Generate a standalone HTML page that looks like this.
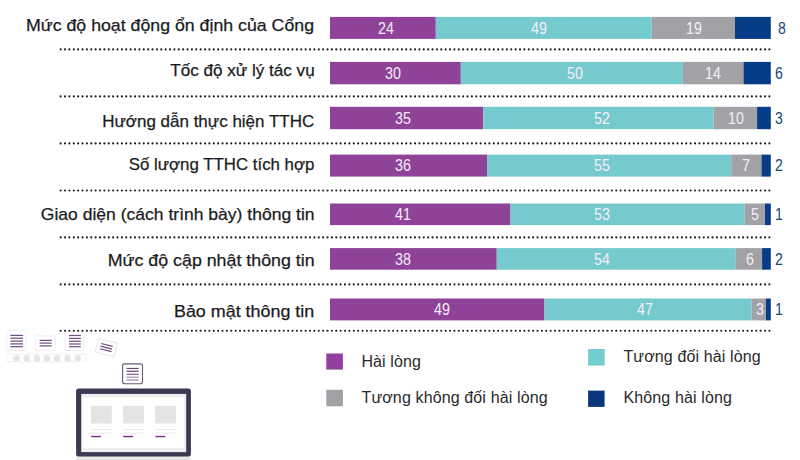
<!DOCTYPE html>
<html><head><meta charset="utf-8">
<style>
html,body{margin:0;padding:0;background:#fff;}
body{width:800px;height:460px;position:relative;overflow:hidden;font-family:"Liberation Sans",sans-serif;}
.lb{position:absolute;right:485.5px;font-size:17px;line-height:17px;color:#1b1b1d;white-space:nowrap;transform-origin:100% 50%;-webkit-text-stroke:0.25px #1b1b1d;}
.v{position:absolute;font-size:15.8px;line-height:15.8px;color:#f6eef6;white-space:nowrap;transform:translateX(-50%) scaleX(0.9);}
.o{position:absolute;font-size:16px;line-height:16px;color:#22447c;white-space:nowrap;transform:scaleX(0.88);transform-origin:0 50%;}
.lg{position:absolute;font-size:16px;line-height:16px;color:#2a2a2c;white-space:nowrap;letter-spacing:0.13px;}
</style></head><body>

<svg style="position:absolute;left:0;top:0" width="800" height="460" viewBox="0 0 800 460">
<rect x="330" y="16.9" width="105.8" height="22" fill="#8e4399"/>
<rect x="435.8" y="16.9" width="215.9" height="22" fill="#75cacd"/>
<rect x="651.7" y="16.9" width="83.3" height="22" fill="#a2a2a6"/>
<rect x="735" y="16.9" width="35.8" height="22" fill="#073c86"/>
<rect x="330" y="61.9" width="130.8" height="22.4" fill="#8e4399"/>
<rect x="460.8" y="61.9" width="222" height="22.4" fill="#75cacd"/>
<rect x="682.8" y="61.9" width="60.7" height="22.4" fill="#a2a2a6"/>
<rect x="743.5" y="61.9" width="27.3" height="22.4" fill="#073c86"/>
<rect x="330" y="106.8" width="153.25" height="22.4" fill="#8e4399"/>
<rect x="483.25" y="106.8" width="230.5" height="22.4" fill="#75cacd"/>
<rect x="713.75" y="106.8" width="43.35" height="22.4" fill="#a2a2a6"/>
<rect x="757.1" y="106.8" width="13.7" height="22.4" fill="#073c86"/>
<rect x="330" y="154.6" width="157" height="22" fill="#8e4399"/>
<rect x="487" y="154.6" width="244.25" height="22" fill="#75cacd"/>
<rect x="731.25" y="154.6" width="30.25" height="22" fill="#a2a2a6"/>
<rect x="761.5" y="154.6" width="9.3" height="22" fill="#073c86"/>
<rect x="330" y="203.5" width="180.5" height="21.6" fill="#8e4399"/>
<rect x="510.5" y="203.5" width="234.1" height="21.6" fill="#75cacd"/>
<rect x="744.6" y="203.5" width="20.4" height="21.6" fill="#a2a2a6"/>
<rect x="765" y="203.5" width="5.8" height="21.6" fill="#073c86"/>
<rect x="330" y="248.1" width="166.75" height="21.6" fill="#8e4399"/>
<rect x="496.75" y="248.1" width="238.65" height="21.6" fill="#75cacd"/>
<rect x="735.4" y="248.1" width="26.7" height="21.6" fill="#a2a2a6"/>
<rect x="762.1" y="248.1" width="8.7" height="21.6" fill="#073c86"/>
<rect x="330" y="298.5" width="214.5" height="21.9" fill="#8e4399"/>
<rect x="544.5" y="298.5" width="207" height="21.9" fill="#75cacd"/>
<rect x="751.5" y="298.5" width="14.4" height="21.9" fill="#a2a2a6"/>
<rect x="765.9" y="298.5" width="4.9" height="21.9" fill="#073c86"/>
<rect x="326.3" y="353.5" width="16.6" height="16.1" fill="#923fa0"/>
<rect x="326.3" y="389.8" width="16.6" height="16.5" fill="#a2a2a6"/>
<rect x="588.1" y="349" width="16.6" height="16.6" fill="#72cdd0"/>
<rect x="588.1" y="390.6" width="16.5" height="16.3" fill="#0a377c"/>
<g fill="#fff" stroke="#efedf1" stroke-width="1">
<rect x="7" y="330.7" width="19" height="19.8" rx="1"/>
<rect x="35.2" y="335.9" width="20" height="14.6" rx="1"/>
<rect x="65" y="331.5" width="19" height="19" rx="1"/>
<rect x="6.8" y="354" width="79.3" height="7.7" rx="1.5" stroke="#efefef"/>
</g>
<line x1="10.4" y1="335.4" x2="23" y2="335.4" stroke="#6e4c7f" stroke-width="1.2"/><line x1="10.4" y1="338.2" x2="23" y2="338.2" stroke="#6e4c7f" stroke-width="1.2"/><line x1="10.4" y1="341.1" x2="23" y2="341.1" stroke="#6e4c7f" stroke-width="1.2"/><line x1="10.4" y1="343.9" x2="23" y2="343.9" stroke="#6e4c7f" stroke-width="1.2"/><line x1="10.4" y1="346.7" x2="23" y2="346.7" stroke="#6e4c7f" stroke-width="1.2"/>
<line x1="39.6" y1="340.4" x2="51.7" y2="340.4" stroke="#6e4c7f" stroke-width="1.2"/><line x1="39.6" y1="343.1" x2="51.7" y2="343.1" stroke="#6e4c7f" stroke-width="1.2"/><line x1="39.6" y1="345.9" x2="51.7" y2="345.9" stroke="#6e4c7f" stroke-width="1.2"/>
<line x1="69" y1="335.5" x2="80.8" y2="335.5" stroke="#6e4c7f" stroke-width="1.2"/><line x1="69" y1="338.4" x2="80.8" y2="338.4" stroke="#6e4c7f" stroke-width="1.2"/><line x1="69" y1="341.2" x2="80.8" y2="341.2" stroke="#6e4c7f" stroke-width="1.2"/><line x1="69" y1="344" x2="80.8" y2="344" stroke="#6e4c7f" stroke-width="1.2"/><line x1="69" y1="346.7" x2="80.8" y2="346.7" stroke="#6e4c7f" stroke-width="1.2"/>
<circle cx="16.6" cy="358.3" r="3.2" fill="#e5e5e5"/>
<circle cx="26.7" cy="358.3" r="3.2" fill="#e5e5e5"/>
<circle cx="36.8" cy="358.3" r="3.2" fill="#e5e5e5"/>
<circle cx="46.9" cy="358.3" r="3.2" fill="#e5e5e5"/>
<circle cx="57" cy="358.3" r="3.2" fill="#e5e5e5"/>
<circle cx="67.5" cy="358.3" r="3.2" fill="#e5e5e5"/>
<circle cx="77.8" cy="358.3" r="3.2" fill="#e5e5e5"/>
<g transform="translate(106.3 347.6) rotate(14)"><rect x="-9.8" y="-7" width="19.6" height="14" rx="1" fill="#fff" stroke="#e6e4e8"/><line x1="-6" y1="-2.7" x2="6" y2="-2.7" stroke="#6e4c7f" stroke-width="1.2"/><line x1="-6" y1="0" x2="6" y2="0" stroke="#6e4c7f" stroke-width="1.2"/><line x1="-6" y1="2.7" x2="6" y2="2.7" stroke="#6e4c7f" stroke-width="1.2"/></g>
<rect x="122.6" y="363.9" width="19.9" height="19.8" rx="2" fill="#fff" stroke="#6a5a76" stroke-width="1.1"/>
<line x1="126.5" y1="368.5" x2="138.7" y2="368.5" stroke="#6a4a7c" stroke-width="1.2"/><line x1="126.5" y1="371.3" x2="138.7" y2="371.3" stroke="#6a4a7c" stroke-width="1.2"/>
<line x1="126.5" y1="374.3" x2="138.7" y2="374.3" stroke="#7f5a92" stroke-width="1.2"/>
<line x1="126.5" y1="377.2" x2="138.7" y2="377.2" stroke="#a586b5" stroke-width="1.2"/><line x1="126.5" y1="380" x2="138.7" y2="380" stroke="#a586b5" stroke-width="1.2"/>
<rect x="76.5" y="456.3" width="114" height="4" fill="#e9e9e9"/>
<rect x="76.1" y="388.4" width="114.8" height="68.2" rx="2.5" fill="#3e3752"/>
<rect x="81.2" y="393.9" width="105" height="58.2" fill="#eeeeee"/>
<rect x="82.6" y="397.3" width="101.3" height="50.8" fill="#ffffff"/>
<rect x="90.9" y="405.7" width="20.9" height="17.8" fill="#e4e4e4"/>
<rect x="90.9" y="429.1" width="20.9" height="0.9" fill="#e6e6e6"/>
<rect x="90.9" y="432.6" width="20.9" height="0.9" fill="#e6e6e6"/>
<rect x="91.1" y="435.8" width="9.8" height="1.5" fill="#7b3a87"/>
<rect x="123" y="405.7" width="20.9" height="17.8" fill="#e4e4e4"/>
<rect x="123" y="429.1" width="20.9" height="0.9" fill="#e6e6e6"/>
<rect x="123" y="432.6" width="20.9" height="0.9" fill="#e6e6e6"/>
<rect x="123.2" y="435.8" width="9.8" height="1.5" fill="#7b3a87"/>
<rect x="155.2" y="405.7" width="20.9" height="17.8" fill="#e4e4e4"/>
<rect x="155.2" y="429.1" width="20.9" height="0.9" fill="#e6e6e6"/>
<rect x="155.2" y="432.6" width="20.9" height="0.9" fill="#e6e6e6"/>
<rect x="155.4" y="435.8" width="9.8" height="1.5" fill="#7b3a87"/>
<line x1="60.65" y1="49.4" x2="770" y2="49.4" stroke="#1a1a1a" stroke-width="2.1" stroke-linecap="round" stroke-dasharray="0 4.375"/>
<line x1="60.65" y1="96.4" x2="770" y2="96.4" stroke="#1a1a1a" stroke-width="2.1" stroke-linecap="round" stroke-dasharray="0 4.375"/>
<line x1="60.65" y1="143.4" x2="770" y2="143.4" stroke="#1a1a1a" stroke-width="2.1" stroke-linecap="round" stroke-dasharray="0 4.375"/>
<line x1="60.65" y1="190.5" x2="770" y2="190.5" stroke="#1a1a1a" stroke-width="2.1" stroke-linecap="round" stroke-dasharray="0 4.375"/>
<line x1="60.65" y1="237.4" x2="770" y2="237.4" stroke="#1a1a1a" stroke-width="2.1" stroke-linecap="round" stroke-dasharray="0 4.375"/>
<line x1="60.65" y1="284.4" x2="770" y2="284.4" stroke="#1a1a1a" stroke-width="2.1" stroke-linecap="round" stroke-dasharray="0 4.375"/>
<line x1="60.65" y1="330.8" x2="770" y2="330.8" stroke="#1a1a1a" stroke-width="2.1" stroke-linecap="round" stroke-dasharray="0 4.375"/>
</svg>
<div class="lb" style="top:17.11px;transform:scaleX(1.0434)">Mức độ hoạt động ổn định của Cổng</div>
<div class="lb" style="top:62.11px;transform:scaleX(1.0045)">Tốc độ xử lý tác vụ</div>
<div class="lb" style="top:113.11px;transform:scaleX(0.9990)">Hướng dẫn thực hiện TTHC</div>
<div class="lb" style="top:156.01px;transform:scaleX(0.9906)">Số lượng TTHC tích hợp</div>
<div class="lb" style="top:206.41px;transform:scaleX(1.0307)">Giao diện (cách trình bày) thông tin</div>
<div class="lb" style="top:252.21px;transform:scaleX(1.0467)">Mức độ cập nhật thông tin</div>
<div class="lb" style="top:303.01px;transform:scaleX(1.0527)">Bảo mật thông tin</div>
<div class="v" style="left:386px;top:20.6px">24</div>
<div class="v" style="left:539.1px;top:20.6px">49</div>
<div class="v" style="left:694.2px;top:20.6px">19</div>
<div class="o" style="left:778px;top:20.5px">8</div>
<div class="v" style="left:392.75px;top:65.8px">30</div>
<div class="v" style="left:575.4px;top:65.8px">50</div>
<div class="v" style="left:712.7px;top:65.8px">14</div>
<div class="o" style="left:775px;top:65.7px">6</div>
<div class="v" style="left:403.4px;top:110.7px">35</div>
<div class="v" style="left:601.6px;top:110.7px">52</div>
<div class="v" style="left:735.8px;top:110.7px">10</div>
<div class="o" style="left:775px;top:110.6px">3</div>
<div class="v" style="left:403.4px;top:158.3px">36</div>
<div class="v" style="left:601.6px;top:158.3px">55</div>
<div class="v" style="left:745.6px;top:158.3px">7</div>
<div class="o" style="left:775px;top:158.2px">2</div>
<div class="v" style="left:403px;top:207px">41</div>
<div class="v" style="left:601.9px;top:207px">53</div>
<div class="v" style="left:755.3px;top:207px">5</div>
<div class="o" style="left:775px;top:206.9px">1</div>
<div class="v" style="left:403.4px;top:251.6px">38</div>
<div class="v" style="left:601.6px;top:251.6px">54</div>
<div class="v" style="left:749.7px;top:251.6px">6</div>
<div class="o" style="left:775px;top:251.5px">2</div>
<div class="v" style="left:442.25px;top:302.15px">49</div>
<div class="v" style="left:645.25px;top:302.15px">47</div>
<div class="v" style="left:760px;top:302.15px">3</div>
<div class="o" style="left:775px;top:302.05px">1</div>
<div class="lg" style="left:361.4px;top:353.66px">Hài lòng</div>
<div class="lg" style="left:361.5px;top:390.06px">Tương không đối hài lòng</div>
<div class="lg" style="left:623.4px;top:349.46px">Tương đối hài lòng</div>
<div class="lg" style="left:623.4px;top:390.06px">Không hài lòng</div>
</body></html>
